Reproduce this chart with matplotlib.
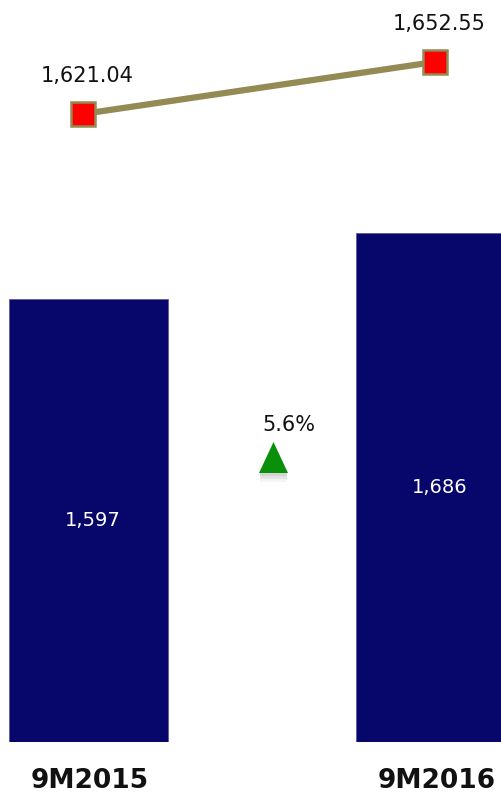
import matplotlib
matplotlib.use("Agg")
import matplotlib.pyplot as plt
import matplotlib.transforms as mtransforms
from matplotlib.patches import Polygon

periods = ["9M2015", "9M2016"]
bar_values = [1597, 1686]
line_values = [1621.04, 1652.55]
growth_label = "5.6%"

BAR_COLOR = "#06066B"
LINE_COLOR = "#948A54"

plt.rcParams["font.family"] = ["DejaVu Sans"]

fig = plt.figure(figsize=(5.02, 7.96), dpi=100)
rect = [0, 54 / 796, 1, 742 / 796]
ax = fig.add_axes(rect)

x = list(range(len(periods)))
ax.bar(x, bar_values, width=0.458, color=BAR_COLOR, edgecolor="#5a5aa0", linewidth=0.6)
for xi, v in zip(x, bar_values):
    ax.annotate(f"{v:,.0f}", (xi, (1000 + v) / 2), xytext=(3, 0), textcoords="offset points",
                ha="center", va="center", color="white", fontsize=14)
ax.set_xlim(-88.5 / 347, 413.5 / 347)
ax.set_ylim(1000, 2000)
ax.set_xticks(x)
ax.set_xticklabels(periods, fontsize=19, fontweight="bold", color="#111111")
ax.tick_params(axis="x", length=0, pad=19)
shift = mtransforms.ScaledTranslation(1 / 72, 0, fig.dpi_scale_trans)
for lbl in ax.get_xticklabels():
    lbl.set_transform(lbl.get_transform() + shift)
ax.set_yticks([])
for s in ax.spines.values():
    s.set_visible(False)

# line series on its own overlaid axes
ax2 = fig.add_axes(rect)
ax2.patch.set_alpha(0)
ax2.plot(x, line_values, color=LINE_COLOR, lw=4.5, marker="s", markersize=17,
         markerfacecolor="red", markeredgecolor=LINE_COLOR, markeredgewidth=1.8, zorder=3)
for xi, v in zip(x, line_values):
    ax2.annotate(f"{v:,.2f}", (xi, v), xytext=(3, 27), textcoords="offset points",
                 ha="center", va="center", fontsize=15, color="#111111")
ax2.set_xlim(-83 / 352, 419 / 352)
ax2.set_ylim(1240.4, 1690.1)
ax2.set_xticks([])
ax2.set_yticks([])
for s in ax2.spines.values():
    s.set_visible(False)

# growth marker (triangle with soft shadow) between the bars
W, H = 502, 796
def fig_pts(pts):
    return [(px / W, 1 - py / H) for px, py in pts]

for i, a in enumerate([0.10, 0.07, 0.04]):
    off = 3 + i * 3
    fig.add_artist(Polygon(fig_pts([(260, 473 + off - 6), (287, 473 + off - 6), (287, 473 + off), (260, 473 + off)]),
                           closed=True, facecolor="black", alpha=a, edgecolor="none",
                           transform=fig.transFigure))
fig.add_artist(Polygon(fig_pts([(273.5, 442), (259, 473), (288, 473)]), closed=True,
                       facecolor="#0A8F0A", edgecolor="none", transform=fig.transFigure))
fig.text(289 / W, 1 - 425 / H, growth_label, ha="center", va="center", fontsize=15, color="#111111")

fig.savefig("out.png", dpi=100)
